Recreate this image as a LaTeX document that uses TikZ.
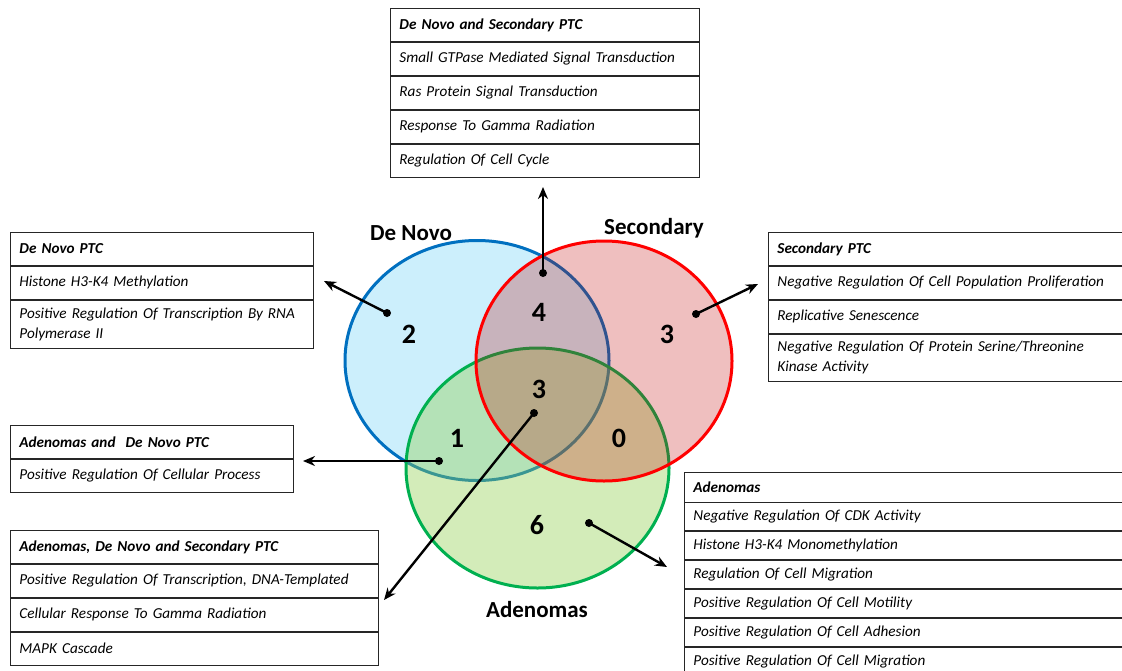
\documentclass[tikz,border=0pt]{standalone}
\usepackage{fontspec}
\setmainfont{Carlito}
\usetikzlibrary{positioning,arrows.meta}
\definecolor{dnline}{RGB}{0,112,192}
\definecolor{dnfill}{RGB}{0,176,240}
\definecolor{scline}{RGB}{255,0,0}
\definecolor{scfill}{RGB}{192,0,0}
\definecolor{adline}{RGB}{0,176,80}
\definecolor{adfill}{RGB}{146,208,80}
\tikzset{
  row/.style={draw=black!85, line width=0.9pt, rectangle, text width=#1, minimum height=33pt,
    inner xsep=9pt, inner ysep=0pt, align=left, anchor=north west, font=\fontsize{15.2}{20}\selectfont\itshape},
  hdr/.style={font=\fontsize{15.2}{20}\selectfont\bfseries\itshape},
  setname/.style={font=\fontsize{23}{26}\selectfont\bfseries, anchor=base},
  numlbl/.style={font=\fontsize{28}{30}\selectfont\bfseries},
  blob/.style={circle, fill=black, inner sep=0pt, minimum size=8pt},
  arr/.style={line width=2.4pt, -{Stealth[length=12pt, width=10pt]}},
  venn/.style={line width=3pt},
}
\begin{document}
\begin{tikzpicture}[x=1pt, y=-1pt]
	\useasboundingbox (0,0) rectangle (1122,670);
	\fill[white] (0,0) rectangle (1122,670);

	\draw[venn, dnline, fill=dnfill, fill opacity=0.2] (477,360.5) ellipse [x radius=132pt, y radius=120pt];
	\draw[venn, adline, fill=adfill, fill opacity=0.4] (537.5,468) ellipse [x radius=131.5pt, y radius=120pt];
	\draw[venn, scline, fill=scfill, fill opacity=0.25] (604,361) ellipse [x radius=128pt, y radius=120pt];

	\node (lbldn) [setname] at (411,240) {De Novo};
	\node (lblsc) [setname] at (654,234) {Secondary};
	\node (lblad) [setname] at (537,617) {Adenomas};

	\node (ndn) [numlbl] at (409,334) {2};
	\node (ndnsc) [numlbl] at (539,312) {4};
	\node (nsc) [numlbl] at (667,334) {3};
	\node (nall) [numlbl] at (539,389) {3};
	\node (nadn) [numlbl] at (457,438) {1};
	\node (nadsc) [numlbl] at (619,438) {0};
	\node (nad) [numlbl] at (537,525) {6};

	\node (pdn) [blob] at (387,313) {};
	\node (pdnsc) [blob] at (543,273) {};
	\node (psc) [blob] at (696,314) {};
	\node (padn) [blob] at (439,461) {};
	\node (pall) [blob] at (534,413) {};
	\node (pad) [blob] at (589,523) {};

	\coordinate (tdn) at (324,281);
	\coordinate (tdnsc) at (543,187);
	\coordinate (tsc) at (758,284);
	\coordinate (tadn) at (303,461);
	\coordinate (tall) at (384,600);
	\coordinate (tad) at (667,567);

	\draw[arr] (pdn.center) -- (tdn);
	\draw[arr] (pdnsc.center) -- (tdnsc);
	\draw[arr] (psc.center) -- (tsc);
	\draw[arr] (padn.center) -- (tadn);
	\draw[arr] (pall.center) -- (tall);
	\draw[arr] (pad.center) -- (tad);

	\node (dnsc0) [row=291pt, hdr] at (390,8) {De Novo and Secondary PTC};
	\node (dnsc1) [row=291pt, below=0pt of dnsc0] {Small GTPase Mediated Signal Transduction};
	\node (dnsc2) [row=291pt, below=0pt of dnsc1] {Ras Protein Signal Transduction};
	\node (dnsc3) [row=291pt, below=0pt of dnsc2] {Response To Gamma Radiation};
	\node (dnsc4) [row=291pt, below=0pt of dnsc3] {Regulation Of Cell Cycle};

	\node (dn0) [row=285pt, hdr] at (10,232) {De Novo PTC};
	\node (dn1) [row=285pt, below=0pt of dn0] {Histone H3-K4 Methylation};
	\node (dn2) [row=285pt, minimum height=48pt, below=0pt of dn1] {Positive Regulation Of Transcription By RNA\\Polymerase II};

	\node (sc0) [row=338pt, hdr] at (768,232) {Secondary PTC};
	\node (sc1) [row=338pt, below=0pt of sc0] {Negative Regulation Of Cell Population Proliferation};
	\node (sc2) [row=338pt, below=0pt of sc1] {Replicative Senescence};
	\node (sc3) [row=338pt, minimum height=47pt, below=0pt of sc2] {Negative Regulation Of Protein Serine/Threonine\\Kinase Activity};

	\node (adn0) [row=265pt, hdr] at (10,425) {Adenomas and\ \ De Novo PTC};
	\node (adn1) [row=265pt, below=0pt of adn0] {Positive Regulation Of Cellular Process};

	\node (all0) [row=350pt, hdr] at (10,530) {Adenomas, De Novo and Secondary PTC};
	\node (all1) [row=350pt, below=0pt of all0] {Positive Regulation Of Transcription, DNA-Templated};
	\node (all2) [row=350pt, below=0pt of all1] {Cellular Response To Gamma Radiation};
	\node (all3) [row=350pt, below=0pt of all2] {MAPK Cascade};

	\node (ad0) [row=422pt, hdr, minimum height=29.5pt] at (684,472) {Adenomas};
	\node (ad1) [row=422pt, minimum height=28pt, below=0pt of ad0] {Negative Regulation Of CDK Activity};
	\node (ad2) [row=422pt, minimum height=28pt, below=0pt of ad1] {Histone H3-K4 Monomethylation};
	\node (ad3) [row=422pt, minimum height=28pt, below=0pt of ad2] {Regulation Of Cell Migration};
	\node (ad4) [row=422pt, minimum height=28pt, below=0pt of ad3] {Positive Regulation Of Cell Motility};
	\node (ad5) [row=422pt, minimum height=28pt, below=0pt of ad4] {Positive Regulation Of Cell Adhesion};
	\node (ad6) [row=422pt, minimum height=28pt, below=0pt of ad5] {Positive Regulation Of Cell Migration};
\end{tikzpicture}
\end{document}
